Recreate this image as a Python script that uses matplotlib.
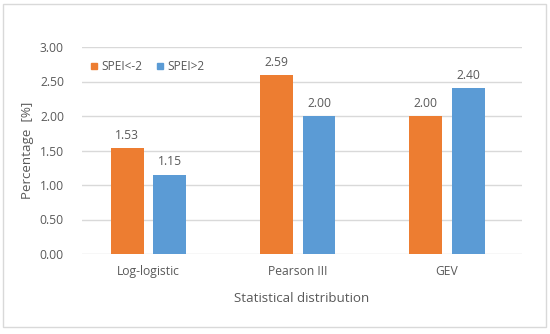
import matplotlib.pyplot as plt
import numpy as np
from matplotlib.patches import Rectangle
from matplotlib.lines import Line2D

categories = ["Log-logistic", "Pearson III", "GEV"]
spei_low = [1.53, 2.59, 2.00]
spei_high = [1.15, 2.00, 2.40]
series_names = ["SPEI<-2", "SPEI>2"]
yticks = [0.0, 0.5, 1.0, 1.5, 2.0, 2.5, 3.0]

orange = "#ED7D31"
blue = "#5B9BD5"
text_grey = "#595959"
grid_grey = "#D9D9D9"

plt.rcParams["font.family"] = ["Open Sans", "DejaVu Sans"]

fig = plt.figure(figsize=(5.5, 3.34), dpi=100)
fig.patches.append(Rectangle((3 / 550, 7 / 334), 543 / 550, 323 / 334,
                             transform=fig.transFigure, fill=False,
                             edgecolor=grid_grey, linewidth=1.0))
ax = fig.add_axes([82 / 550, 80 / 334, 440 / 550, 207 / 334])

x = np.arange(len(categories))
w = 0.221
off = 0.1424
b1 = ax.bar(x - off, spei_low, w, color=orange, zorder=3)
b2 = ax.bar(x + off, spei_high, w, color=blue, zorder=3)

for bars, vals in ((b1, spei_low), (b2, spei_high)):
    for r, v in zip(bars, vals):
        ax.annotate("%.2f" % v, (r.get_x() + r.get_width() / 2, v),
                    xytext=(0, 4.5), textcoords="offset points",
                    ha="center", va="bottom", fontsize=8.7, color=text_grey)

ax.set_xlim(-0.4456, 2.5025)
ax.set_ylim(0, 3.0)
ax.set_yticks(yticks)
ax.set_yticklabels(["%.2f" % t for t in yticks])
ax.set_xticks(x)
ax.set_xticklabels(categories)
ax.yaxis.grid(True, color=grid_grey, linewidth=1.0, zorder=0)
ax.set_axisbelow(True)
for s in ax.spines.values():
    s.set_visible(False)
ax.tick_params(axis="both", length=0, colors=text_grey, labelsize=8.7)
ax.tick_params(axis="y", pad=13)
ax.tick_params(axis="x", pad=8)

ax.set_xlabel("Statistical distribution", fontsize=9.6, color=text_grey, labelpad=10)
ax.set_ylabel("Percentage  [%]", fontsize=9.6, color=text_grey, labelpad=4)

handles = [Line2D([], [], marker="s", linestyle="none", markersize=5,
                  color=c) for c in (orange, blue)]
ax.legend(handles, series_names, loc="upper left", bbox_to_anchor=(-0.01, 0.99),
          frameon=False, fontsize=8.6, labelcolor=text_grey, ncol=2,
          handletextpad=0.1, columnspacing=1.0, handlelength=1.0)

fig.savefig("out.png", dpi=100)
